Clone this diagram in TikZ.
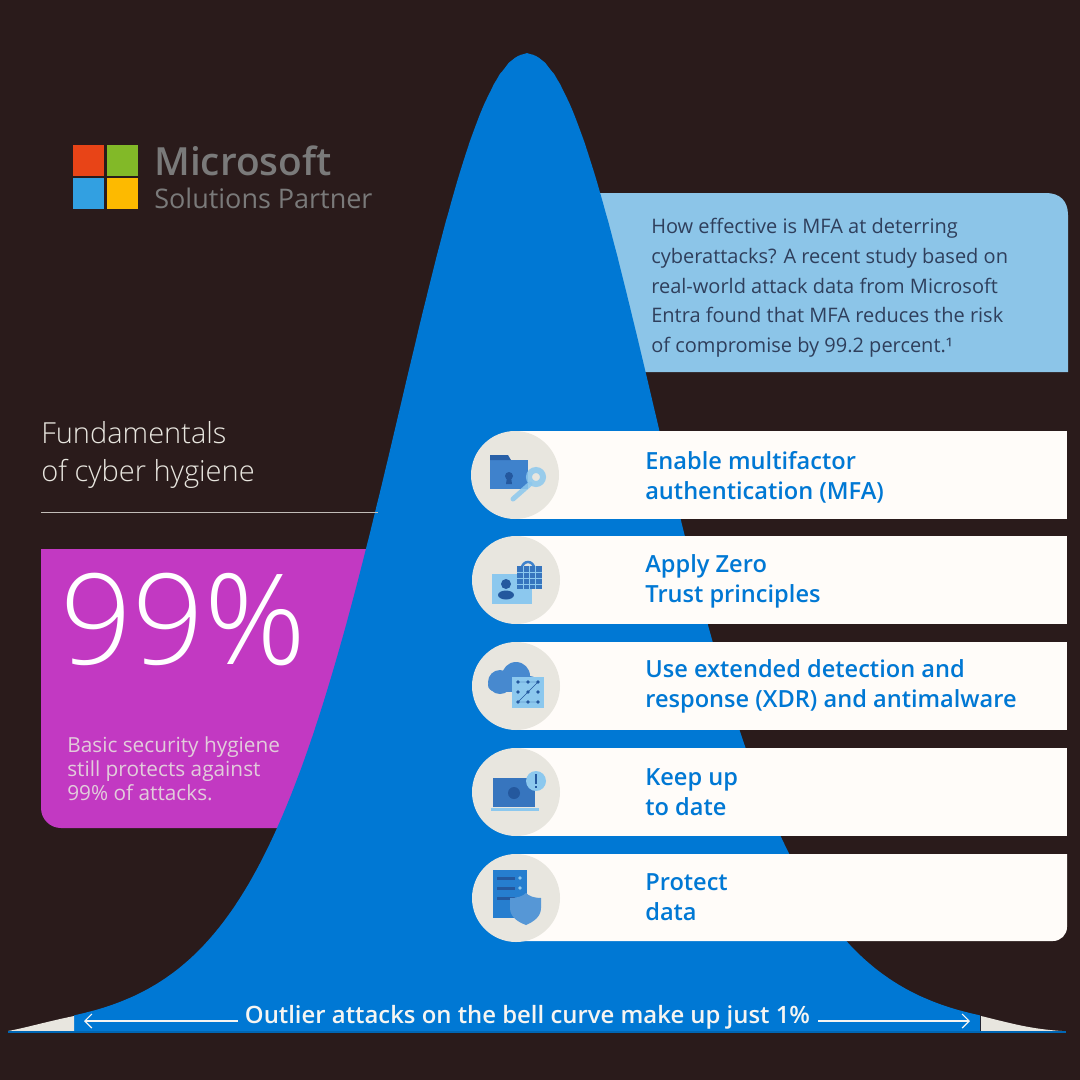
\documentclass[tikz,border=0pt]{standalone}
\usepackage{fontspec}
\setmainfont{Open Sans}
\newfontfamily\lightfont{Open Sans Light}
\newfontfamily\mediumfont{Open Sans Semibold}
\usetikzlibrary{positioning, arrows.meta}

\definecolor{bgdark}{HTML}{2A1B1B}
\definecolor{bellblue}{HTML}{0078D4}
\definecolor{tailcream}{HTML}{E8E6DF}
\definecolor{calloutblue}{HTML}{8CC5E8}
\definecolor{calloutink}{HTML}{2F3F5C}
\definecolor{hygienepurple}{HTML}{C239C2}
\definecolor{cardwhite}{HTML}{FFFCF9}
\definecolor{iconlight}{HTML}{8CC8EE}
\definecolor{iconmid}{HTML}{3F82CC}
\definecolor{icondark}{HTML}{24589E}
\definecolor{logogray}{HTML}{7A7A7A}

\tikzset{
    declare function={bell(\d)=978*(2/(exp(\d/245)+exp(-\d/245)))^3.5;},
    card/.style={fill=cardwhite, minimum width=552pt, anchor=west, inner sep=0pt},
    iconback/.style={circle, fill=tailcream, minimum size=88pt, inner sep=0pt},
    cardtext/.style={anchor=west, align=left, inner sep=0pt, text=bellblue,
                     font=\mediumfont\fontsize{23.6}{30}\selectfont},
    logosquare/.style={minimum size=31pt, inner sep=0pt},
}

\begin{document}
\begin{tikzpicture}[x=1pt, y=-1pt, >={Straight Barb[length=7pt,width=14pt]}, semithick]
    \useasboundingbox (0,0) rectangle (1080,1080);
    \fill[bgdark] (0,0) rectangle (1080,1080);

    % logo
    \node[logosquare, fill={rgb,255:red,232;green,68;blue,23}] (logored) at (88,160) {};
    \node[logosquare, fill={rgb,255:red,130;green,185;blue,40}] (logogreen) at (122,160) {};
    \node[logosquare, fill={rgb,255:red,50;green,160;blue,225}] (logoblue) at (88,193) {};
    \node[logosquare, fill={rgb,255:red,253;green,186;blue,0}] (logoyellow) at (122,193) {};
    \node[anchor=west, inner sep=0pt, text=logogray, font=\mediumfont\fontsize{38.8}{38.8}\selectfont] (logoname) at (154,161) {Microsoft};
    \node[anchor=west, inner sep=0pt, text=logogray, font=\fontsize{27}{27}\selectfont] (logosub) at (154,198) {Solutions Partner};

    % panels behind the curve
    \fill[calloutblue] (560,193) -- (1046,193) .. controls (1060,193) and (1068,201) .. (1068,215) -- (1068,372) -- (560,372) -- cycle;
    \fill[hygienepurple] (430,549) -- (41,549) [rounded corners=20pt] -- (41,828) [sharp corners] -- (430,828) -- cycle;

    % bell curve
    \fill[bellblue] plot[domain=-453:453, samples=301] ({527+\x},{1031-bell(\x)}) -- (980,1032) -- (74,1032) -- cycle;
    \fill[tailcream] (74,1031) -- (74,1016) .. controls (45,1022) and (25,1028) .. (8,1031) -- cycle;
    \fill[tailcream] (981,1031) -- (981,1016) .. controls (1010,1023) and (1030,1029) .. (1062,1031) -- cycle;
    \fill[bellblue!85!black] (8,1031) rectangle (1066,1032.5);

    % left column
    \node[anchor=north west, inner sep=0pt, align=left, text=tailcream, font=\lightfont\fontsize{29}{38.5}\selectfont] (fundamentals) at (41,421) {Fundamentals\\of cyber hygiene};
    \coordinate (ruleleft) at (41,512.5);
    \coordinate (ruleright) at (378,512.5);
    \draw[tailcream!80!bgdark, line width=1.5pt] (ruleleft) -- (ruleright);
    \node[anchor=west, inner sep=0pt, text=white, font=\lightfont\fontsize{126}{126}\selectfont] (bignumber) at (60,620) {99\%};
    \node[anchor=north west, inner sep=0pt, align=left, text=tailcream!85!hygienepurple, font=\fontsize{20.8}{24}\selectfont] (hygienetext) at (67,736) {Basic security hygiene\\still protects against\\99\% of attacks.};

    % callout text
    \node[anchor=north west, inner sep=0pt, align=left, text=calloutink, font=\fontsize{20}{29.7}\selectfont] (mfatext) at (651,218) {How effective is MFA at deterring\\cyberattacks? A recent study based on\\real-world attack data from Microsoft\\Entra found that MFA reduces the risk\\of compromise by 99.2 percent.¹};

    % cards
    \node[card, minimum height=88pt] (card1) at (515,475) {};
    \node[card, minimum height=88pt] (card2) at (515,580) {};
    \node[card, minimum height=88pt] (card3) at (515,686) {};
    \node[card, minimum height=88pt] (card4) at (515,792) {};
    \fill[cardwhite] (515,854) -- (1067,854) [rounded corners=14pt] -- (1067,941) [sharp corners] -- (515,941) -- cycle;
    \node[iconback] (icon1) at (515,475) {};
    \node[iconback] (icon2) at (516,580) {};
    \node[iconback] (icon3) at (516,686) {};
    \node[iconback] (icon4) at (516,792) {};
    \node[iconback] (icon5) at (516,898) {};

    \node[cardtext] (cardtext1) at (645,477) {Enable multifactor\\authentication (MFA)};
    \node[cardtext] (cardtext2) at (645,581) {Apply Zero\\Trust principles};
    \node[cardtext] (cardtext3) at (645,686) {Use extended detection and\\response (XDR) and antimalware};
    \node[cardtext] (cardtext4) at (645,792) {Keep up\\to date};
    \node[cardtext] (cardtext5) at (645,897) {Protect\\data};

    % folder and key
    \fill[iconmid] (490,460) rectangle (528,489);
    \fill[icondark!80!iconmid] (490,455) -- (508,455) -- (511,460) -- (490,460) -- cycle;
    \fill[icondark] (509,476) circle (4) (507,477) -- (511,477) -- (512,484) -- (506,484) -- cycle;
    \draw[iconlight, line width=6pt, opacity=.85] (536,477) circle (7);
    \draw[iconlight, line width=5pt, line cap=round, opacity=.85] (530,484) -- (513,499);

    % card and lock
    \fill[iconlight] (492,574) rectangle (532,604);
    \fill[icondark] (506,584) circle (5);
    \fill[icondark] (506,595) ellipse (8 and 4.5);
    \draw[iconmid, line width=2.5pt] (522,568) arc[start angle=180, end angle=360, radius=6];
    \fill[iconmid!70!icondark] (517,566) rectangle (542,589);
    \draw[iconlight, very thin] (517,572) -- (542,572) (517,578) -- (542,578) (517,584) -- (542,584) (523,566) -- (523,589) (529,566) -- (529,589) (535,566) -- (535,589);

    % cloud and grid
    \fill[iconmid!90!iconlight] (500,682) circle (12);
    \fill[iconmid!90!iconlight] (516,676) circle (14);
    \fill[iconmid!90!iconlight] (530,684) circle (8);
    \fill[iconmid!90!iconlight] (494,685) circle (6);
    \fill[iconmid!90!iconlight] (494,682) rectangle (530,692);
    \fill[iconlight] (512,677) rectangle (544,708);
    \foreach \dotx in {518,528,538}
        \foreach \doty in {682,692,702}
            \fill[icondark] (\dotx,\doty) circle (1.8);
    \draw[icondark, thin] (518,682) -- (538,682) -- (518,702) -- (538,702);

    % laptop and alert
    \fill[iconmid!70!icondark] (493,778) rectangle (535,807);
    \fill[icondark] (514,793) circle (6);
    \fill[iconlight] (491,808) rectangle (539,811);
    \fill[iconlight] (536,781) circle (10);
    \fill[icondark] (535,774) rectangle (537,784);
    \fill[icondark] (535,786) rectangle (537,788);

    % server and shield
    \fill[iconmid!60!bellblue] (493,870) rectangle (527,918);
    \foreach \bary in {878,888,898}
        \fill[icondark] (497,\bary-1.5) rectangle (515,\bary+1.5);
    \fill[iconlight] (520,878) circle (1.8);
    \fill[iconlight] (520,888) circle (1.8);
    \fill[iconmid!70!iconlight] (510,898) .. controls (518,898) and (523,896) .. (526,893) .. controls (529,896) and (534,898) .. (541,898) -- (541,908) .. controls (541,917) and (533,922) .. (526,925) .. controls (518,922) and (510,917) .. (510,908) -- cycle;

    % outlier label
    \node[inner sep=0pt, text=tailcream!40!white, font=\mediumfont\fontsize{23.9}{23.9}\selectfont] (outlier) at (527.5,1017) {Outlier attacks on the bell curve make up just 1\%};
    \coordinate (tailleft) at (84,1021);
    \coordinate (tailright) at (970,1021);
    \coordinate (labelleft) at (238,1021);
    \coordinate (labelright) at (818,1021);
    \draw[->, tailcream!40!white, line width=1.2pt] (labelleft) -- (tailleft);
    \draw[->, tailcream!40!white, line width=1.2pt] (labelright) -- (tailright);
\end{tikzpicture}
\end{document}
